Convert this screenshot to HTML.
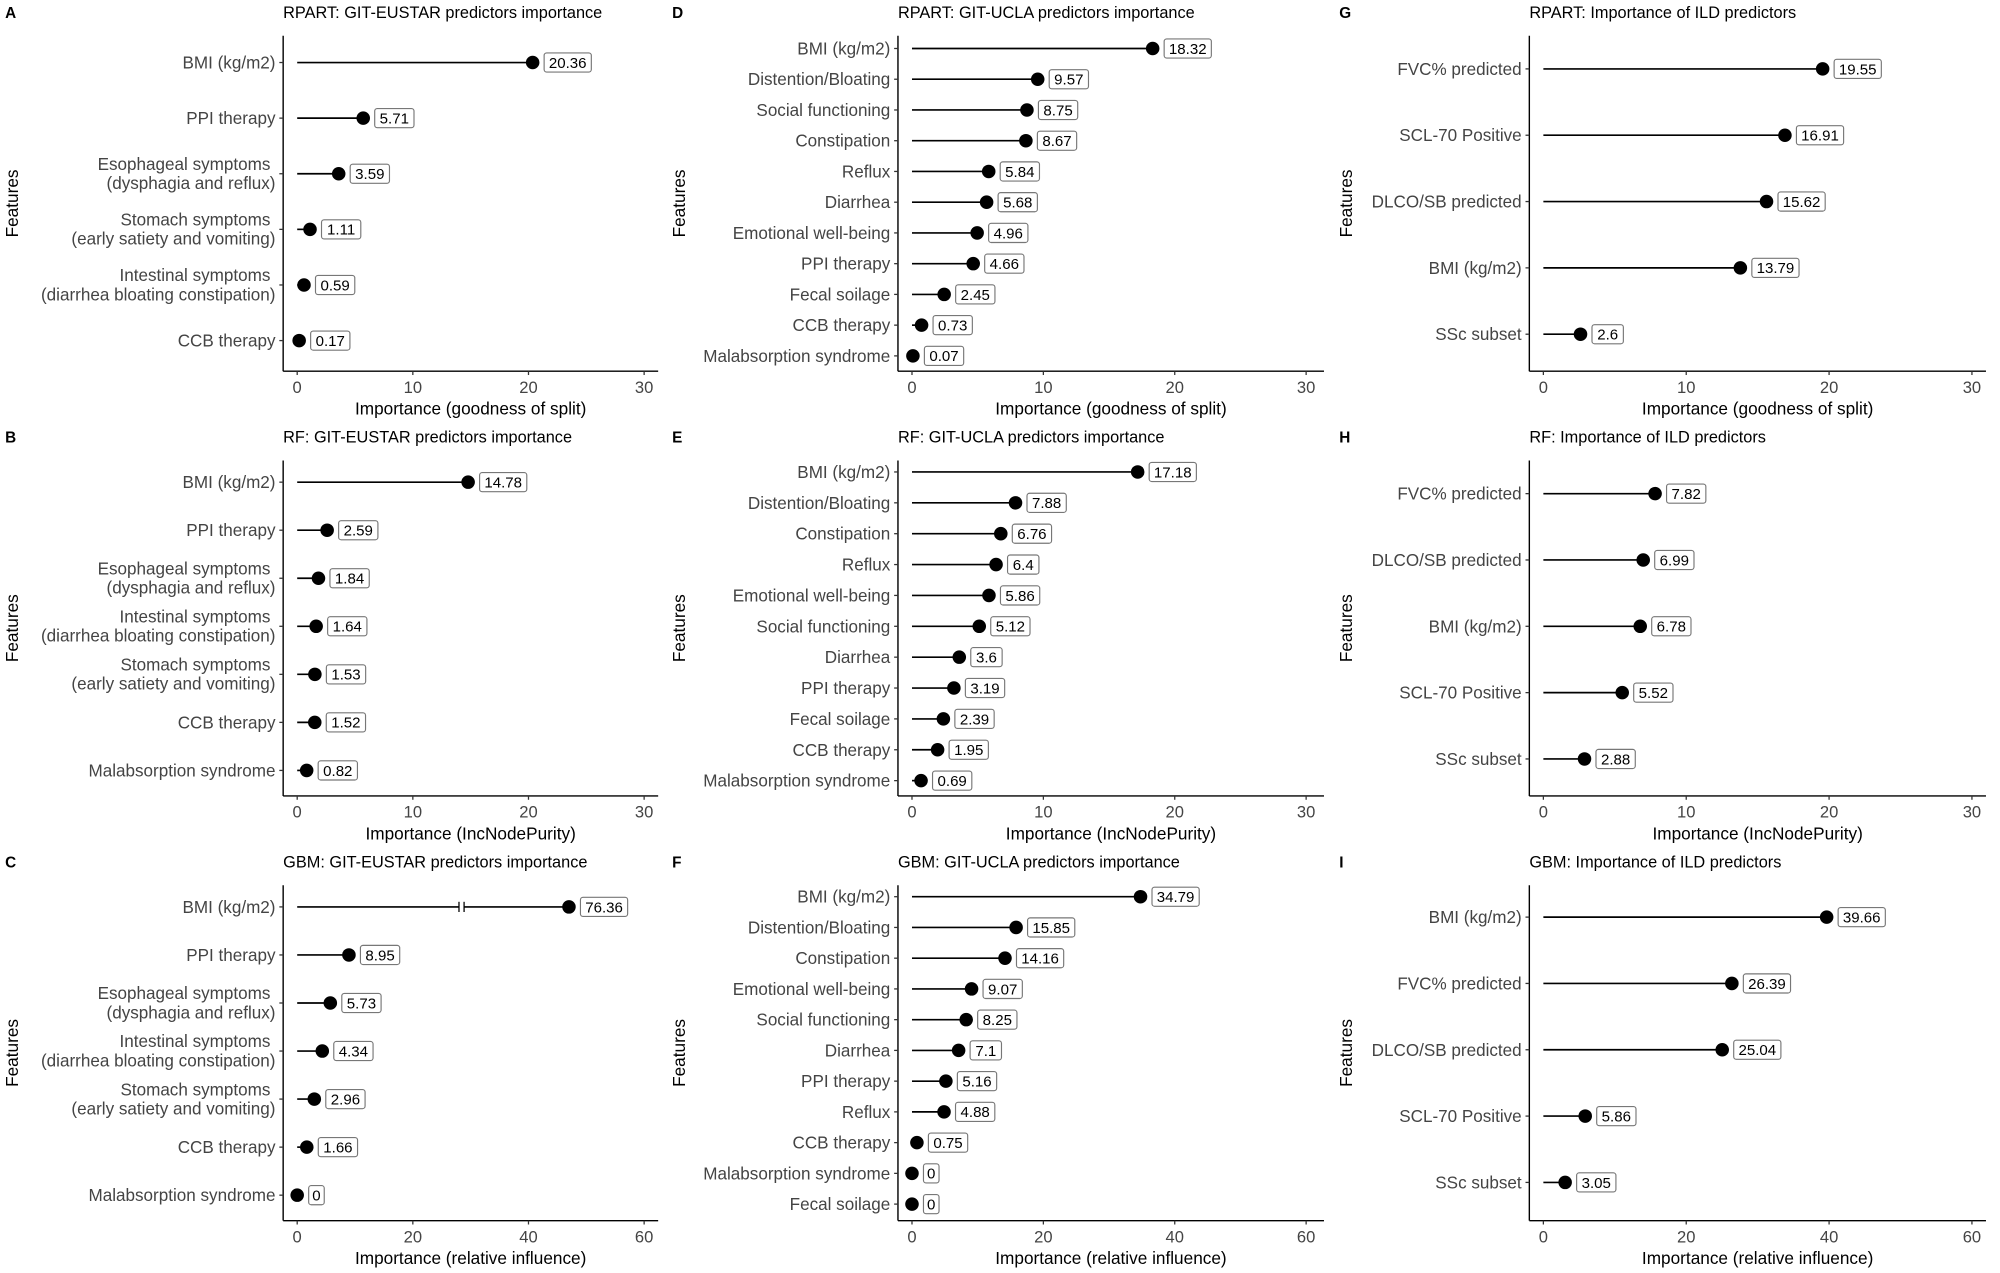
<!DOCTYPE html>
<html><head><meta charset="utf-8">
<style>
html,body{margin:0;padding:0;background:#fff;}
svg{display:block;font-family:"Liberation Sans",Arial,sans-serif;}
</style></head>
<body>
<svg id="fig" width="2000" height="1273" viewBox="0 0 1568 998" xmlns="http://www.w3.org/2000/svg"></svg>
<script>
// ---- data ----
const catsA = ["BMI (kg/m2)","PPI therapy","Esophageal symptoms|(dysphagia and reflux)","Stomach symptoms|(early satiety and vomiting)","Intestinal symptoms|(diarrhea bloating constipation)","CCB therapy"];
const valsA = [20.36,5.71,3.59,1.11,0.59,0.17];
const catsB = ["BMI (kg/m2)","PPI therapy","Esophageal symptoms|(dysphagia and reflux)","Intestinal symptoms|(diarrhea bloating constipation)","Stomach symptoms|(early satiety and vomiting)","CCB therapy","Malabsorption syndrome"];
const valsB = [14.78,2.59,1.84,1.64,1.53,1.52,0.82];
const catsC = ["BMI (kg/m2)","PPI therapy","Esophageal symptoms|(dysphagia and reflux)","Intestinal symptoms|(diarrhea bloating constipation)","Stomach symptoms|(early satiety and vomiting)","CCB therapy","Malabsorption syndrome"];
const valsC = [76.36,8.95,5.73,4.34,2.96,1.66,0];
const catsD = ["BMI (kg/m2)","Distention/Bloating","Social functioning","Constipation","Reflux","Diarrhea","Emotional well-being","PPI therapy","Fecal soilage","CCB therapy","Malabsorption syndrome"];
const valsD = [18.32,9.57,8.75,8.67,5.84,5.68,4.96,4.66,2.45,0.73,0.07];
const catsE = ["BMI (kg/m2)","Distention/Bloating","Constipation","Reflux","Emotional well-being","Social functioning","Diarrhea","PPI therapy","Fecal soilage","CCB therapy","Malabsorption syndrome"];
const valsE = [17.18,7.88,6.76,6.4,5.86,5.12,3.6,3.19,2.39,1.95,0.69];
const catsF = ["BMI (kg/m2)","Distention/Bloating","Constipation","Emotional well-being","Social functioning","Diarrhea","PPI therapy","Reflux","CCB therapy","Malabsorption syndrome","Fecal soilage"];
const valsF = [34.79,15.85,14.16,9.07,8.25,7.1,5.16,4.88,0.75,0,0];
const catsG = ["FVC% predicted","SCL-70 Positive","DLCO/SB predicted","BMI (kg/m2)","SSc subset"];
const valsG = [19.55,16.91,15.62,13.79,2.6];
const catsH = ["FVC% predicted","DLCO/SB predicted","BMI (kg/m2)","SCL-70 Positive","SSc subset"];
const valsH = [7.82,6.99,6.78,5.52,2.88];
const catsI = ["BMI (kg/m2)","FVC% predicted","DLCO/SB predicted","SCL-70 Positive","SSc subset"];
const valsI = [39.66,26.39,25.04,5.86,3.05];
const ticks30 = [0,10,20,30];
const ticks60 = [0,20,40,60];
const breakAt = 47; // axis break: values beyond axis max drawn here

const NS="http://www.w3.org/2000/svg";
const svg=document.getElementById('fig');
function mk(tag,attrs,parent){const e=document.createElementNS(NS,tag);for(const k in attrs)e.setAttribute(k,attrs[k]);(parent||svg).appendChild(e);return e;}

function panel(p){
  const g=mk('g',{});
  
  
  const lt=mk('text',{x:p.letterX,y:p.top-14,'font-size':12,'font-weight':'bold',fill:'#000'},g);lt.textContent=p.letter;
  
  
  const tt=mk('text',{x:p.ax,y:p.top-14,'font-size':12.8,fill:'#000'},g);tt.textContent=p.title;
  
  
  const xmax=p.ticks[p.ticks.length-1];
  const sx=v=>p.x0+(v/xmax)*(p.x1-p.x0);
  const n=p.cats.length;
  const sy=i=>p.y0+(n===1?0:i*(p.yN-p.y0)/(n-1));
  const ya=mk('line',{x1:p.ax,x2:p.ax,y1:p.top,y2:p.bottom,stroke:'#000','stroke-width':1.1},g);
  
  
  const xa=mk('line',{x1:p.ax,x2:p.axEnd,y1:p.bottom,y2:p.bottom,stroke:'#000','stroke-width':1.1},g);
  
  
  p.ticks.forEach(t=>{
    mk('line',{x1:sx(t),x2:sx(t),y1:p.bottom,y2:p.bottom+3,stroke:'#333','stroke-width':1},g);
    const tl=mk('text',{x:sx(t),y:p.bottom+17,'font-size':13,'text-anchor':'middle',fill:'#444'},g);tl.textContent=t;
    
    
  });
  const xt=mk('text',{x:(p.ax+p.axEnd)/2,y:p.bottom+34,'font-size':13.5,'text-anchor':'middle',fill:'#000'},g);xt.textContent=p.xlabel;
  
  
  const yc=(p.top+p.bottom)/2;
  const yt=mk('text',{x:0,y:0,'font-size':13.5,'text-anchor':'middle',fill:'#000',transform:`translate(${p.letterX+10},${yc}) rotate(-90)`},g);yt.textContent='Features';
  
  
  p.cats.forEach((c,i)=>{
    const y=sy(i);
    mk('line',{x1:p.ax-3,x2:p.ax,y1:y,y2:y,stroke:'#333','stroke-width':1},g);
    const lines=c.split('|');
    lines.forEach((ln,j)=>{
      const off=lines.length===1?4.7:(j===0?-3:12);
      const tx=mk('text',{x:p.ax-6-(lines.length>1&&j===0?4:0),y:y+off,'font-size':13.4,'text-anchor':'end',fill:'#444'},g);tx.textContent=ln;
      
      
    });
    const v=p.vals[i];
    const pv=v>xmax?breakAt:v;
    const px=sx(pv);
    const seg=mk('line',{x1:sx(0),x2:px,y1:y,y2:y,stroke:'#000','stroke-width':1.3},g);
    
    
    if(v>xmax){
      const bx=sx(breakAt*0.6);
      mk('rect',{x:bx-1,y:y-4,width:4,height:8,fill:'#fff'},g);
      mk('line',{x1:bx-1,x2:bx-1,y1:y-4,y2:y+4,stroke:'#000','stroke-width':1},g);
      mk('line',{x1:bx+3,x2:bx+3,y1:y-4,y2:y+4,stroke:'#000','stroke-width':1},g);
    }
    const dot=mk('circle',{cx:px,cy:y,r:5.3,fill:'#000'},g);
    
    
    const lbl=String(v);
    const w=lbl.length*6.2+6;
    const bx=px+9;
    const box=mk('rect',{x:bx,y:y-7.5,width:w,height:15,rx:2,fill:'#fff',stroke:'#777','stroke-width':0.9},g);
    
    
    const vt=mk('text',{x:bx+w/2,y:y+4.2,'font-size':11.8,'text-anchor':'middle',fill:'#000'},g);vt.textContent=lbl;
    
    
  });
}
const col1={ax:222,axEnd:516,x0:233,x1:505,letterX:4};
const col2={ax:704,axEnd:1038,x0:715,x1:1024,letterX:527};
const col3={ax:1199,axEnd:1557,x0:1210,x1:1546,letterX:1050};
const row1={top:28,bottom:291}, row2={top:361,bottom:624}, row3={top:694,bottom:957};
panel(Object.assign({letter:'A',title:'RPART: GIT-EUSTAR predictors importance',cats:catsA,vals:valsA,ticks:ticks30,xlabel:'Importance (goodness of split)',y0:49,yN:267},col1,row1));
panel(Object.assign({letter:'B',title:'RF: GIT-EUSTAR predictors importance',cats:catsB,vals:valsB,ticks:ticks30,xlabel:'Importance (IncNodePurity)',y0:378,yN:604},col1,row2));
panel(Object.assign({letter:'C',title:'GBM: GIT-EUSTAR predictors importance',cats:catsC,vals:valsC,ticks:ticks60,xlabel:'Importance (relative influence)',y0:711,yN:937},col1,row3));
panel(Object.assign({letter:'D',title:'RPART: GIT-UCLA predictors importance',cats:catsD,vals:valsD,ticks:ticks30,xlabel:'Importance (goodness of split)',y0:38,yN:279},col2,row1));
panel(Object.assign({letter:'E',title:'RF: GIT-UCLA predictors importance',cats:catsE,vals:valsE,ticks:ticks30,xlabel:'Importance (IncNodePurity)',y0:370,yN:612},col2,row2));
panel(Object.assign({letter:'F',title:'GBM: GIT-UCLA predictors importance',cats:catsF,vals:valsF,ticks:ticks60,xlabel:'Importance (relative influence)',y0:703,yN:944},col2,row3));
panel(Object.assign({letter:'G',title:'RPART: Importance of ILD predictors',cats:catsG,vals:valsG,ticks:ticks30,xlabel:'Importance (goodness of split)',y0:54,yN:262},col3,row1));
panel(Object.assign({letter:'H',title:'RF: Importance of ILD predictors',cats:catsH,vals:valsH,ticks:ticks30,xlabel:'Importance (IncNodePurity)',y0:387,yN:595},col3,row2));
panel(Object.assign({letter:'I',title:'GBM: Importance of ILD predictors',cats:catsI,vals:valsI,ticks:ticks60,xlabel:'Importance (relative influence)',y0:719,yN:927},col3,row3));
</script>
</body></html>
